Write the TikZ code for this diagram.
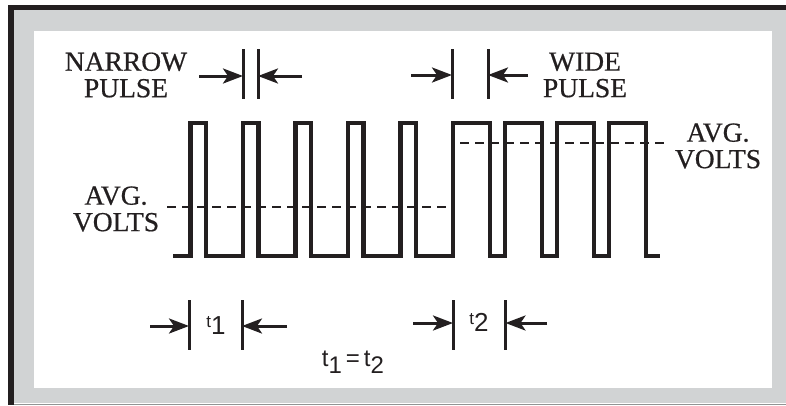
\documentclass[tikz,border=0pt]{standalone}
\usepackage{fontspec}
\setmainfont{Liberation Serif}
\setsansfont{Liberation Sans}
\newfontfamily\capfont{Liberation Serif}[FakeBold=0.6]
\usetikzlibrary{arrows.meta,positioning}

\definecolor{ink}{HTML}{231F20}
\definecolor{panel}{HTML}{D1D3D4}

% t with a dropped index, as in the period labels
\newcommand{\tper}[2][17]{{\fontsize{#1}{#1}\selectfont t}\raisebox{-7pt}{#2}}

\begin{document}
\begin{tikzpicture}[
    x=1pt, y=-1pt,
    font=\capfont\fontsize{27.5}{26.5}\selectfont,
    >={Stealth[length=20pt,width=15pt,inset=5pt]},
    wave/.style={draw=ink, line width=4.8pt, line join=miter},
    avgline/.style={draw=ink, line width=2.8pt, dash pattern=on 9pt off 6pt},
    tick/.style={draw=ink, line width=3pt},
    dimarrow/.style={->, draw=ink, line width=3pt},
    caption/.style={align=center, text=ink, inner sep=0pt},
    period/.style={text=ink, inner sep=0pt, font=\sffamily\fontsize{26}{26}\selectfont}
]
    \useasboundingbox (0,0) rectangle (786,405);

    % frame
    \fill[panel] (14,10) rectangle (786,403);
    \fill[white] (34,31) rectangle (772,388);
    \draw[panel!70!black, line width=1pt] (14,404) -- (786,404);
    \draw[ink, line width=5pt] (8,7.5) -- (786,7.5);
    \draw[ink, line width=6pt] (11,5) -- (11,405);

    % pulse train: narrow pulses, then wide pulses at the same period
    \draw[wave] (173,256)
        foreach \r/\w in {190.5/15.5, 243/15.5, 295.5/15.5, 348/15.5, 400.5/15.5,
                          453/37, 505/37, 557/37, 609/37}
        { -- (\r,256) -- (\r,123) -- (\r+\w,123) -- (\r+\w,256) }
        -- (660,256);

    % average levels
    \draw[avgline] (167,207) -- (452,207);
    \draw[avgline] (460,143) -- (665,143);

    \node[caption] (avglow)  at (116,209) {AVG.\\VOLTS};
    \node[caption] (avghigh) at (718,146) {AVG.\\VOLTS};

    % pulse width marks
    \node[caption] (narrow) at (126,75) {NARROW\\PULSE};
    \node[caption] (wide)   at (585,75) {WIDE\\PULSE};

    \foreach \x in {243,258,452,488}
        \draw[tick] (\x,49) -- (\x,99);

    \coordinate (narrowA) at (243,76);
    \coordinate (narrowB) at (258,76);
    \coordinate (wideA) at (452,75);
    \coordinate (wideB) at (488,75);
    \coordinate (narrowAtail) at (199,76);
    \coordinate (narrowBtail) at (302,76);
    \coordinate (wideAtail) at (411,75);
    \coordinate (wideBtail) at (528,75);

    \draw[dimarrow] (narrowAtail) -- (narrowA);
    \draw[dimarrow] (narrowBtail) -- (narrowB);
    \draw[dimarrow] (wideAtail) -- (wideA);
    \draw[dimarrow] (wideBtail) -- (wideB);

    % period marks
    \foreach \x in {189,242,453,505.5}
        \draw[tick] (\x,300) -- (\x,350);

    \coordinate (perA) at (189,326);
    \coordinate (perB) at (242,326);
    \coordinate (perC) at (453,323);
    \coordinate (perD) at (505.5,323);
    \coordinate (perAtail) at (150,326);
    \coordinate (perBtail) at (287,326);
    \coordinate (perCtail) at (413,323);
    \coordinate (perDtail) at (547,323);

    \draw[dimarrow] (perAtail) -- (perA);
    \draw[dimarrow] (perBtail) -- (perB);
    \draw[dimarrow] (perCtail) -- (perC);
    \draw[dimarrow] (perDtail) -- (perD);

    \node[period] (tone) at (216,325) {\tper{1}};
    \node[period] (ttwo) at (479,322) {\tper{2}};
    \node[period, font=\sffamily\fontsize{24}{24}\selectfont] (tsame) at (353,362) {\tper[24]{1}\,=\,\tper[24]{2}};

\end{tikzpicture}
\end{document}
